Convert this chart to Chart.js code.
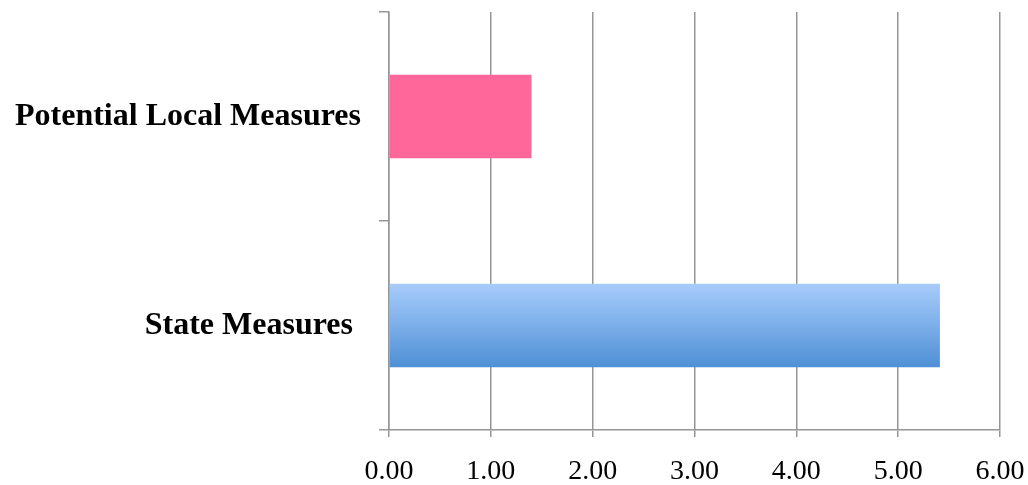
<!DOCTYPE html>
<html>
<head>
<meta charset="utf-8">
<script src="https://cdn.jsdelivr.net/npm/chart.js@4/dist/chart.umd.min.js"></script>
<style>
  html, body { margin: 0; padding: 0; background: #fff; }
  #wrap { width: 1028px; height: 485px; }
</style>
</head>
<body>
<div id="wrap"><canvas id="measuresChart"></canvas></div>
<script>
const categories = ["Potential Local Measures", "State Measures "];
const values = [1.40, 5.41];
const xTicks = [0, 1, 2, 3, 4, 5, 6];

const gridGray = "#969696";

function barColor(ctx) {
  const chart = ctx.chart;
  if (ctx.dataIndex === 0) return "#ff6699";
  if (!chart.chartArea) return "#7fb0ea";
  // gradient over the height of the bar itself
  const yScale = chart.scales.y;
  const mid = yScale.getPixelForValue(ctx.dataIndex);
  const half = (yScale.height / categories.length) * 0.4 / 2;
  const g = chart.ctx.createLinearGradient(0, mid - half, 0, mid + half);
  g.addColorStop(0, "#a8ccfb");
  g.addColorStop(1, "#4e90d6");
  return g;
}

const ctx = document.getElementById("measuresChart").getContext("2d");
new Chart(ctx, {
  type: "bar",
  data: {
    labels: categories,
    datasets: [{
      data: values,
      backgroundColor: barColor,
      borderWidth: 0,
      barPercentage: 0.4,
      categoryPercentage: 1.0
    }]
  },
  options: {
    indexAxis: "y",
    responsive: true,
    maintainAspectRatio: false,
    animation: false,
    layout: { padding: { top: 12, right: 28, left: 0, bottom: 0 } },
    plugins: {
      legend: { display: false },
      tooltip: { enabled: false }
    },
    scales: {
      x: {
        min: 0,
        max: 6,
        afterBuildTicks: (scale) => { scale.ticks = xTicks.map((v) => ({ value: v })); },
        afterFit: (scale) => {
          scale.height = 55;
          scale.paddingLeft = 0;
          scale.paddingRight = 0;
        },
        border: { color: gridGray, width: 1.5 },
        grid: { color: gridGray, lineWidth: 1.5, tickLength: 7 },
        ticks: {
          padding: 18,
          color: "#000",
          font: { family: "Liberation Serif", size: 28 },
          callback: (v) => Number(v).toFixed(2)
        }
      },
      y: {
        afterFit: (scale) => {
          scale.width = 389;
          scale.paddingTop = 0;
          scale.paddingBottom = 0;
        },
        border: { color: gridGray, width: 1.5 },
        grid: { drawOnChartArea: false, color: gridGray, lineWidth: 1.5, tickLength: 10 },
        ticks: {
          padding: 18,
          color: "#000",
          font: { family: "Liberation Serif", size: 32, weight: "bold" }
        }
      }
    }
  }
});
</script>
</body>
</html>
